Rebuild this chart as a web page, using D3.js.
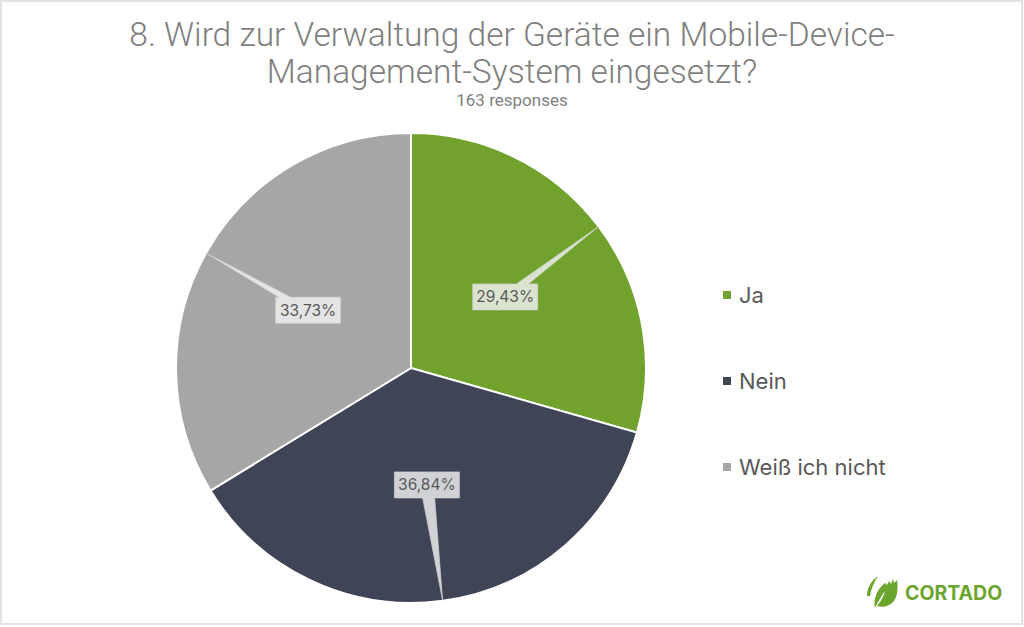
<!DOCTYPE html>
<meta charset="utf-8">
<style>
body { margin: 0; background: #fff; }
text { font-family: Inter, "Noto Sans", sans-serif; }
</style>
<svg width="1024" height="627"></svg>
<script src="https://d3js.org/d3.v7.min.js"></script>
<script>

// Daten
var categories = ["Ja", "Nein", "Weiß ich nicht"];
var values = [29.43, 36.84, 33.73];
var colors = ["#70a22d", "#3f4456", "#a6a6a6"];
var titleLines = ["8. Wird zur Verwaltung der Geräte ein Mobile-Device-", "Management-System eingesetzt?"];
var subtitle = "163 responses";

var svg = d3.select("svg"),
    width = +svg.attr("width"),
    height = +svg.attr("height");

// Rahmen
svg.append("rect")
    .attr("x", 1).attr("y", 1)
    .attr("width", width - 3).attr("height", height - 4)
    .attr("fill", "none")
    .attr("stroke", "#e3e3e3")
    .attr("stroke-width", 2);

// Titel
svg.append("g").selectAll("text")
    .data(titleLines)
    .enter().append("text")
      .attr("x", 512)
      .attr("y", function(d, i) { return 46 + i * 37; })
      .attr("text-anchor", "middle")
      .attr("fill", "#7f7f7f")
      .style("font-family", "Roboto, sans-serif")
      .style("font-weight", "300")
      .style("font-size", "33.5px")
      .text(function(d) { return d; });

svg.append("text")
    .attr("x", 512).attr("y", 106)
    .attr("text-anchor", "middle")
    .attr("fill", "#7f7f7f")
    .style("font-family", "Roboto, sans-serif")
    .style("font-size", "17px")
    .text(subtitle);

// Kreisdiagramm
var cx = 411, cy = 368, radius = 235;
var color = d3.scaleOrdinal().domain(categories).range(colors);

var pie = d3.pie().sort(null).value(function(d) { return d.value; });
var data = categories.map(function(c, i) { return { name: c, value: values[i] }; });
var arcs = pie(data);

var arc = d3.arc().innerRadius(0).outerRadius(radius);
var labelArc = d3.arc().innerRadius(118).outerRadius(118);
var edgeArc = d3.arc().innerRadius(radius).outerRadius(radius);

var g = svg.append("g").attr("transform", "translate(" + cx + "," + cy + ")");

g.selectAll("path.slice")
    .data(arcs)
    .enter().append("path")
      .attr("class", "slice")
      .attr("d", arc)
      .attr("fill", function(d) { return color(d.data.name); })
      .attr("stroke", "#fff")
      .attr("stroke-width", 2);

// Beschriftung mit Zeiger (Callout)
var bw = 65, bh = 26;
function callout(d) {
  var c = labelArc.centroid(d), p = edgeArc.centroid(d);
  var dx = p[0] - c[0], dy = p[1] - c[1];
  var tx = Math.abs(dx) > 0 ? (bw / 2) / Math.abs(dx) : Infinity;
  var ty = Math.abs(dy) > 0 ? (bh / 2) / Math.abs(dy) : Infinity;
  var x0 = c[0] - bw / 2, x1 = c[0] + bw / 2, y0 = c[1] - bh / 2, y1 = c[1] + bh / 2;
  var pts;
  var hw = 6;
  if (ty < tx) {
    var ex = Math.max(x0 + hw, Math.min(x1 - hw, c[0] + dx * ty));
    if (dy < 0) {
      pts = [[x0, y0], [ex - hw, y0], p, [ex + hw, y0], [x1, y0], [x1, y1], [x0, y1]];
    } else {
      pts = [[x0, y0], [x1, y0], [x1, y1], [ex + hw, y1], p, [ex - hw, y1], [x0, y1]];
    }
  } else {
    var ey = Math.max(y0 + hw, Math.min(y1 - hw, c[1] + dy * tx));
    if (dx > 0) {
      pts = [[x0, y0], [x1, y0], [x1, ey - hw], p, [x1, ey + hw], [x1, y1], [x0, y1]];
    } else {
      pts = [[x0, y0], [x1, y0], [x1, y1], [x0, y1], [x0, ey + hw], p, [x0, ey - hw]];
    }
  }
  return "M" + pts.map(function(q) { return q[0] + "," + q[1]; }).join("L") + "Z";
}

var labels = g.selectAll("g.label")
    .data(arcs)
    .enter().append("g")
      .attr("class", "label");

labels.append("path")
    .attr("d", callout)
    .attr("fill", "#f2f2f2")
    .attr("fill-opacity", 0.82)
    .attr("stroke", "#d0d0d0")
    .attr("stroke-opacity", 0.7)
    .attr("stroke-width", 1);

labels.append("text")
    .attr("x", function(d) { return labelArc.centroid(d)[0]; })
    .attr("y", function(d) { return labelArc.centroid(d)[1] + 5.5; })
    .attr("text-anchor", "middle")
    .attr("fill", "#595959")
    .style("font-size", "15.5px")
    .text(function(d) { return d.data.value.toFixed(2).replace(".", ",") + "%"; });

// Legende
var legend = svg.append("g").selectAll("g")
    .data(categories)
    .enter().append("g")
      .attr("transform", function(d, i) { return "translate(723," + (295 + i * 86) + ")"; });

legend.append("rect")
    .attr("x", 0).attr("y", -4)
    .attr("width", 8).attr("height", 8)
    .attr("fill", function(d) { return color(d); });

legend.append("text")
    .attr("x", 16).attr("y", 8)
    .attr("fill", "#595959")
    .style("font-size", "22px")
    .text(function(d) { return d; });

// Logo
var logo = svg.append("g").attr("transform", "translate(866,574)");
logo.append("path")
    .attr("d", "M9,34 C7,25 11,15 19,9 L21,11 L23,7 L25,10 L27,5 L28,9 L31,6 C32,13 32,21 28,27 C24,32 17,34 11,32 C15,27 18,22 19,17 C15,22 12,28 9,34 Z")
    .attr("fill", "#6ba52e");
logo.append("path")
    .attr("d", "M1,22 C1,14 5,7 12,2 C8,8 5,15 4,22 Z")
    .attr("fill", "#6ba52e");
logo.append("text")
    .attr("x", 39).attr("y", 26)
    .attr("fill", "#6ba52e")
    .style("font-size", "19.5px")
    .style("font-weight", "700")
    .text("CORTADO");

</script>
